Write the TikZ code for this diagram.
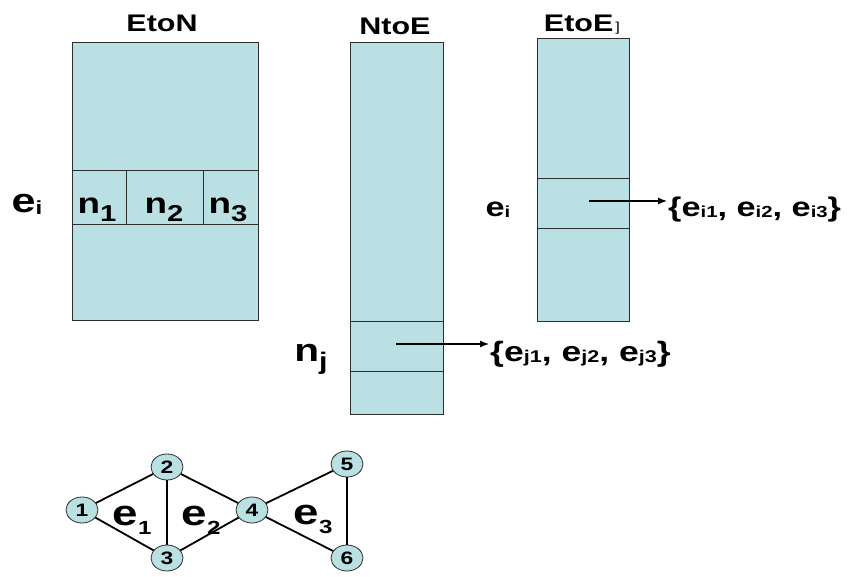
\documentclass[tikz,border=0pt]{standalone}
\usepackage{fontspec}
\setmainfont{Liberation Sans}[FakeStretch = 1.27]
\usetikzlibrary{shapes.geometric, arrows.meta}
\definecolor{tablecyan}{RGB}{186,224,227}
\definecolor{tableline}{RGB}{45,45,45}
\newcommand{\fsz}[1]{\fontsize{#1}{#1}\selectfont}
\newcommand{\subidx}[3]{\raisebox{-#2pt}{\fsz{#1}#3}}
\tikzset{
    label/.style = {anchor = base, inner sep = 1pt, font = \bfseries},
    vertex/.style = {ellipse, draw = tableline, fill = tablecyan, line width = 0.8pt,
        minimum width = 32pt, minimum height = 26pt, inner sep = 0pt,
        font = \bfseries\fsz{18}},
    edge/.style = {line width = 1.8pt},
    pointer/.style = {line width = 1.2pt, -{Latex[length = 9pt, width = 7pt]}}
}
\begin{document}
\begin{tikzpicture}[x = 1pt, y = -1pt]
    \useasboundingbox (0,0) rectangle (857,577);
    \begin{scope}[line width = 0.8pt, draw = tableline, fill = tablecyan]
        % EtoN
        \filldraw (72,42) rectangle (258,320);
        \foreach \y in {170, 224}
            \draw (72,\y) -- (258,\y);
        \foreach \x in {126, 203}
            \draw (\x,170) -- (\x,224);
        % NtoE
        \filldraw (350,42) rectangle (443,414);
        \foreach \y in {321, 371}
            \draw (350,\y) -- (443,\y);
        % EtoE
        \filldraw (537,38) rectangle (629,321);
        \foreach \y in {178, 228}
            \draw (537,\y) -- (629,\y);
    \end{scope}
    \begin{scope}[every node/.append style = {label}]
        \node (etontitle) at (162,32) {\fsz{24}EtoN};
        \node (ntoetitle) at (395,35) {\fsz{24}NtoE};
        \node (etoetitle) at (582,32) {\fsz{24}EtoE\kern2pt\mdseries\fsz{13}]};
        \node (eileft) at (27,213) {\fsz{34}e\subidx{19}{2}{i}};
        \node (none) at (97,214) {\fsz{29}n\subidx{23}{8}{1}};
        \node (ntwo) at (164,214) {\fsz{29}n\subidx{23}{8}{2}};
        \node (nthree) at (228,214) {\fsz{29}n\subidx{23}{8}{3}};
        \node (eiright) at (498,217) {\fsz{27}e\subidx{16}{1}{i}};
        \node (nj) at (311,362) {\fsz{32}n\subidx{24}{8}{j}};
        \node[anchor = base west] (eiset) at (667,217)
            {\fsz{27}\{e\subidx{16}{1}{i1}, e\subidx{16}{1}{i2}, e\subidx{16}{1}{i3}\}};
        \node[anchor = base west] (ejset) at (489,362)
            {\fsz{28}\{e\subidx{17}{1}{j1}, e\subidx{17}{1}{j2}, e\subidx{17}{1}{j3}\}};
    \end{scope}
    \coordinate (etoerow) at (589,201);
    \coordinate (ntoerow) at (396,344);
    \draw[pointer] (etoerow) -- (etoerow -| eiset.west);
    \draw[pointer] (ntoerow) -- (ntoerow -| ejset.west);
    % graph
    \node[vertex] (v1) at (82,510) {1};
    \node[vertex] (v2) at (167,467) {2};
    \node[vertex] (v3) at (167,558) {3};
    \node[vertex] (v4) at (252,510) {4};
    \node[vertex] (v5) at (347,464) {5};
    \node[vertex] (v6) at (347,558) {6};
    \foreach \a/\b in {1/2, 1/3, 2/3, 2/4, 3/4, 4/5, 4/6, 5/6}
        \draw[edge] (v\a) -- (v\b);
    \begin{scope}[every node/.append style = {label}]
        \node (eone) at (132,525) {\fsz{36}e\subidx{19}{9}{1}};
        \node (etwo) at (201,525) {\fsz{36}e\subidx{19}{9}{2}};
        \node (ethree) at (313,524) {\fsz{36}e\subidx{19}{9}{3}};
    \end{scope}
\end{tikzpicture}
\end{document}
